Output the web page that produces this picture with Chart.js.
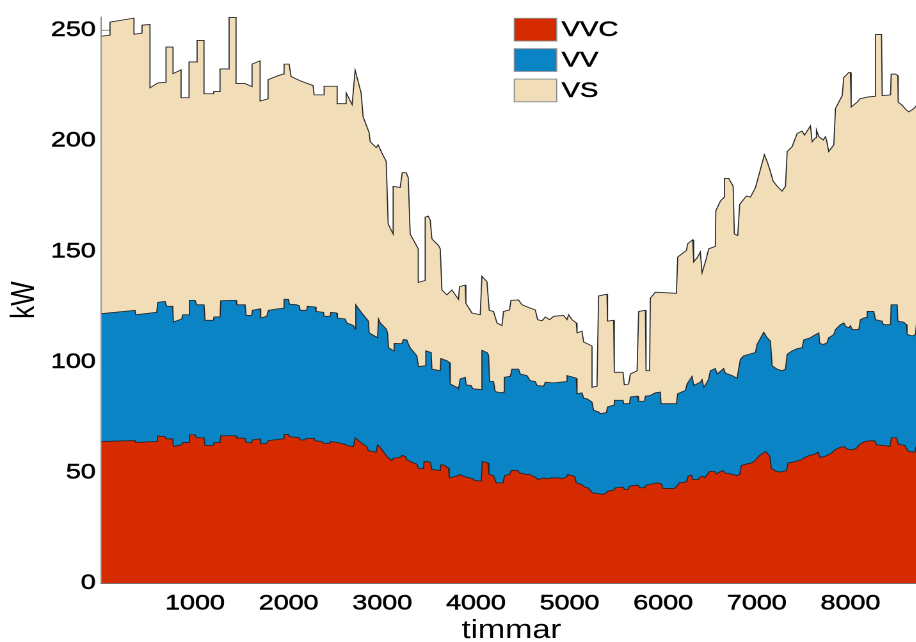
<!DOCTYPE html>
<html>
<head>
<meta charset="utf-8">
<script src="https://cdn.jsdelivr.net/npm/chart.js@4.4.1/dist/chart.umd.min.js"></script>
<style>
  html, body { margin: 0; padding: 0; background: #fff; overflow: hidden; width: 916px; height: 642px; }
  /* the figure is drawn on a narrower canvas and widened horizontally */
  #stage { position: absolute; left: 0; top: 0; width: 720px; height: 642px; transform: scaleX(1.28); transform-origin: 0 0; }
  canvas { display: block; }
</style>
</head>
<body>
<div id="stage"><canvas id="chart" width="720" height="642"></canvas></div>
<script>
// Hourly load over one year, stacked by category. Each list holds the
// upper edge of its band as [hour, kW] pairs.
const SERIES_LABELS = ['VVC', 'VV', 'VS'];
const SERIES_COLORS = ['#d62b00', '#0b84c6', '#f2ddb9'];
const X_TICKS = [1000, 2000, 3000, 4000, 5000, 6000, 7000, 8000];
const Y_TICKS = [0, 50, 100, 150, 200, 250];
const HOURS_IN_YEAR = 8760;
const KW_MAX = 256;

const VVC_TOP = [
  [0,64.1],[360,64.5],[367,63.7],[591,64.1],[598,66.6],[680,66.3],[690,65.3],[762,65.3],[769,61.8],[858,62.6],
  [869,63.6],[929,63.6],[940,67.1],[1000,67.1],[1018,65.8],[1096,65.8],[1107,62.3],[1196,62.3],[1203,63.6],[1267,63.6],
  [1275,66.7],[1438,66.7],[1446,65.8],[1535,65.5],[1545,63.6],[1606,63.6],[1613,64.8],[1695,65.3],[1702,63.0],[1766,63.3],
  [1784,64.5],[1944,65.3],[1951,67.3],[1997,67.3],[2008,66.3],[2115,65.8],[2122,64.8],[2176,64.8],[2186,65.5],[2272,65.5],
  [2283,64.4],[2354,64.1],[2372,63.3],[2436,63.3],[2443,64.1],[2521,63.7],[2543,63.3],[2603,62.9],[2621,62.3],[2692,61.8],
  [2710,65.8],[2781,63.3],[2835,61.8],[2852,59.9],[2935,59.3],[2949,62.6],[2970,61.8],[3031,58.4],[3049,57.4],[3102,55.4],
  [3120,56.6],[3191,56.9],[3209,57.8],[3245,57.4],[3262,55.9],[3334,54.4],[3369,53.9],[3387,51.9],[3440,51.9],[3447,55.1],
  [3512,54.8],[3530,51.4],[3619,51.0],[3626,53.6],[3672,53.3],[3690,52.4],[3708,52.1],[3715,47.7],[3790,48.4],[3825,49.2],
  [3897,48.0],[3961,47.4],[3985,46.5],[4057,46.2],[4068,55.1],[4128,54.4],[4139,49.2],[4188,48.7],[4217,45.4],[4289,45.4],
  [4306,48.7],[4359,49.2],[4377,51.0],[4449,51.0],[4466,49.9],[4538,49.2],[4567,49.4],[4609,48.4],[4637,48.0],[4663,46.9],
  [4698,47.4],[4733,47.7],[4751,47.2],[4805,47.7],[4858,47.7],[4930,47.4],[4965,48.0],[4983,49.2],[5019,48.7],[5054,48.4],
  [5072,45.4],[5126,44.7],[5161,43.5],[5197,43.2],[5243,40.9],[5304,40.5],[5357,40.2],[5393,40.9],[5411,41.7],[5464,42.0],
  [5492,43.2],[5571,43.5],[5588,42.5],[5625,42.5],[5642,43.9],[5732,44.4],[5749,43.2],[5802,43.2],[5820,44.4],[5892,45.0],
  [5927,45.4],[5980,45.0],[5999,42.9],[6123,42.9],[6141,43.9],[6176,45.4],[6248,45.9],[6266,48.4],[6301,48.9],[6319,46.9],
  [6373,46.9],[6390,48.0],[6426,48.4],[6443,47.7],[6497,50.6],[6550,50.6],[6568,49.4],[6604,50.3],[6640,51.0],[6657,49.9],
  [6747,49.2],[6782,48.7],[6817,49.2],[6835,53.3],[6889,53.9],[6942,54.4],[6978,55.4],[7031,57.8],[7095,59.6],[7138,57.4],
  [7156,51.9],[7209,50.6],[7263,50.3],[7316,51.0],[7334,54.4],[7388,54.8],[7441,55.4],[7477,55.9],[7512,56.9],[7565,57.8],
  [7619,58.4],[7655,59.3],[7672,56.9],[7726,57.4],[7762,58.1],[7797,58.8],[7833,60.3],[7886,61.4],[7940,61.8],[7958,60.8],
  [8011,60.3],[8065,61.1],[8100,62.9],[8153,64.1],[8207,64.4],[8260,64.4],[8278,62.6],[8367,62.3],[8420,61.8],[8438,65.8],
  [8492,65.8],[8510,62.9],[8580,62.3],[8617,59.6],[8688,59.3],[8706,62.6],[8760,62.6]
];

const VV_TOP = [
  [0,121.9],[360,123.4],[367,121.4],[591,122.5],[602,127.0],[680,127.4],[698,125.2],[762,125.2],[769,118.1],[858,119.5],
  [869,121.4],[929,121.4],[940,127.9],[1000,127.9],[1018,125.9],[1096,125.9],[1107,118.9],[1196,118.9],[1203,120.4],[1267,120.4],
  [1275,127.7],[1374,127.9],[1438,127.9],[1446,125.9],[1535,125.9],[1545,121.1],[1606,121.1],[1613,123.4],[1695,124.1],[1702,119.9],
  [1766,120.7],[1784,123.4],[1873,124.0],[1944,124.4],[1951,128.4],[1997,128.4],[2008,126.2],[2087,125.9],[2115,125.4],[2122,123.4],
  [2193,123.4],[2200,125.2],[2283,124.9],[2293,122.9],[2372,122.5],[2379,120.7],[2443,120.7],[2450,122.5],[2514,122.2],[2521,119.9],
  [2603,119.5],[2621,117.7],[2692,116.5],[2710,115.0],[2717,125.9],[2781,122.2],[2852,118.5],[2860,113.2],[2949,111.0],[2960,119.5],
  [2978,117.7],[3042,115.0],[3056,113.2],[3067,106.5],[3120,105.1],[3127,108.4],[3191,108.3],[3209,108.4],[3227,110.2],[3262,110.0],
  [3280,108.0],[3298,106.5],[3369,102.8],[3387,98.0],[3458,98.3],[3465,105.1],[3522,104.3],[3530,96.8],[3619,96.1],[3626,101.6],
  [3690,100.6],[3718,99.8],[3726,90.1],[3797,88.6],[3814,87.9],[3832,92.4],[3886,93.1],[3896,89.7],[3947,89.4],[3968,87.9],
  [4064,87.6],[4064,105.3],[4118,104.3],[4135,103.1],[4146,91.2],[4188,91.2],[4206,86.7],[4260,86.1],[4295,86.4],[4303,93.1],
  [4367,93.6],[4385,96.8],[4455,96.8],[4474,94.6],[4545,93.9],[4580,91.6],[4634,91.2],[4652,89.4],[4723,89.1],[4741,90.9],
  [4830,90.6],[4901,90.9],[4973,91.2],[4973,93.9],[5043,93.1],[5072,92.7],[5080,85.7],[5133,86.1],[5150,83.7],[5187,83.4],
  [5240,81.9],[5257,78.2],[5310,77.5],[5329,76.7],[5393,77.2],[5406,79.7],[5471,80.5],[5478,82.7],[5571,82.7],[5578,81.2],
  [5642,81.2],[5649,84.2],[5727,84.6],[5738,82.3],[5799,82.3],[5810,84.6],[5863,84.9],[5916,86.1],[5970,86.4],[5977,81.2],
  [6141,81.2],[6155,85.7],[6237,87.2],[6255,90.1],[6309,93.6],[6326,89.4],[6397,90.9],[6415,92.1],[6433,88.6],[6469,90.9],
  [6486,92.4],[6504,96.1],[6557,97.1],[6576,94.6],[6646,97.1],[6664,95.0],[6736,93.9],[6789,92.7],[6825,101.3],[6860,102.8],
  [6913,103.5],[6985,104.3],[7003,108.0],[7074,113.5],[7110,111.0],[7145,109.5],[7164,98.3],[7217,96.8],[7270,96.1],[7306,96.8],
  [7324,103.5],[7377,105.1],[7431,106.1],[7484,106.5],[7501,110.0],[7573,111.0],[7608,112.0],[7662,113.2],[7672,108.4],[7715,108.0],
  [7751,108.8],[7768,111.0],[7805,112.0],[7822,112.5],[7840,114.7],[7893,116.9],[7929,117.7],[7947,116.2],[7982,115.5],[8000,116.5],
  [8018,114.7],[8089,114.7],[8107,119.2],[8142,119.9],[8179,120.3],[8179,122.9],[8249,122.9],[8268,119.2],[8339,118.5],[8350,116.9],
  [8428,116.9],[8435,125.9],[8499,125.9],[8506,118.5],[8570,118.0],[8599,116.9],[8606,112.5],[8660,111.8],[8695,112.5],[8706,118.5],
  [8760,118.5]
];

const VS_TOP = [
  [0,247.3],[92,247.8],[92,253.7],[348,255.5],[348,248.2],[434,248.7],[434,252.3],[519,252.6],[519,224.0],[605,226.2],
  [690,226.5],[690,242.4],[765,242.4],[765,230.4],[851,232.1],[851,219.5],[936,219.5],[936,235.7],[1022,235.7],[1022,245.4],
  [1096,245.4],[1096,221.3],[1193,221.3],[1200,222.3],[1267,222.3],[1267,232.5],[1364,232.5],[1364,255.8],[1438,255.8],[1438,225.9],
  [1535,225.9],[1609,224.5],[1609,234.7],[1695,236.2],[1695,218.0],[1780,219.0],[1780,227.7],[1877,229.3],[1941,230.2],[1951,234.7],
  [2005,234.7],[2026,229.1],[2122,227.2],[2261,225.0],[2272,220.8],[2379,220.8],[2379,224.7],[2518,224.7],[2518,216.8],[2614,216.8],
  [2614,221.7],[2678,216.4],[2710,232.0],[2774,221.7],[2796,210.8],[2860,203.7],[2871,199.6],[2935,197.0],[2956,198.2],[2988,195.2],
  [3042,190.7],[3063,162.4],[3116,157.9],[3116,179.4],[3191,178.9],[3213,185.6],[3255,185.6],[3277,183.4],[3298,157.9],[3384,151.2],
  [3384,136.0],[3458,136.9],[3458,165.5],[3490,166.0],[3512,164.2],[3530,155.7],[3600,152.7],[3619,151.2],[3637,132.6],[3690,130.4],
  [3744,132.6],[3779,130.4],[3814,128.4],[3825,134.1],[3886,134.8],[3893,126.6],[3957,122.2],[4046,121.4],[4064,138.8],[4118,136.3],
  [4142,123.4],[4188,122.9],[4225,117.7],[4278,116.5],[4295,122.9],[4359,123.6],[4374,127.9],[4455,128.1],[4492,125.9],[4580,124.4],
  [4634,123.6],[4659,119.2],[4706,118.7],[4741,120.4],[4787,119.2],[4830,120.7],[4936,121.1],[4973,119.2],[4990,121.4],[5026,119.2],
  [5072,117.7],[5080,113.2],[5133,114.0],[5150,109.1],[5240,107.3],[5240,88.6],[5293,89.1],[5310,129.9],[5400,130.7],[5406,118.5],
  [5471,118.9],[5478,95.4],[5571,95.4],[5585,89.7],[5631,90.1],[5649,94.6],[5721,96.1],[5738,122.9],[5810,123.4],[5817,96.1],
  [5855,96.1],[5863,128.9],[5916,131.6],[6141,131.1],[6155,147.5],[6248,150.5],[6262,153.5],[6315,155.3],[6326,145.3],[6368,147.5],
  [6397,149.8],[6415,140.4],[6461,146.8],[6486,151.2],[6557,152.3],[6562,168.4],[6611,172.8],[6654,174.6],[6654,183.0],[6700,183.0],
  [6747,179.5],[6760,157.9],[6796,157.2],[6817,171.3],[6889,175.1],[6932,174.6],[6985,178.8],[7081,193.7],[7110,190.7],[7145,186.2],
  [7174,181.8],[7217,179.5],[7270,177.3],[7306,179.5],[7324,195.2],[7377,197.4],[7431,203.4],[7484,204.4],[7509,202.6],[7544,204.9],
  [7573,206.8],[7591,199.6],[7626,201.4],[7637,204.9],[7662,201.9],[7709,200.4],[7733,201.9],[7744,200.4],[7768,195.2],[7822,198.2],
  [7840,214.6],[7912,220.5],[7929,228.7],[7982,230.9],[8000,230.9],[8008,215.3],[8072,217.5],[8100,219.0],[8179,219.8],[8268,220.2],
  [8268,248.1],[8332,248.1],[8339,220.5],[8428,220.8],[8435,230.2],[8481,230.2],[8506,229.5],[8510,217.5],[8553,216.1],[8588,214.3],
  [8624,213.1],[8677,214.6],[8706,216.1],[8760,216.1]
];

const SERIES_EDGES = [VVC_TOP, VV_TOP, VS_TOP];
const FONT_FAMILY = "'Liberation Sans', Arial, Helvetica, sans-serif";

// Short tick marks pointing into the plot; the filled bands cover most of them.
const innerTicks = {
  id: 'innerTicks',
  beforeDatasetsDraw(chart) {
    const { ctx, chartArea: a, scales: { x, y } } = chart;
    ctx.save();
    ctx.strokeStyle = '#6f6f6f';
    ctx.lineWidth = 0.8;
    ctx.beginPath();
    y.ticks.forEach(t => {
      const py = y.getPixelForValue(t.value);
      ctx.moveTo(a.left, py); ctx.lineTo(a.left + 7, py);
    });
    x.ticks.forEach(t => {
      const px = x.getPixelForValue(t.value);
      ctx.moveTo(px, a.bottom); ctx.lineTo(px, a.bottom - 9);
    });
    ctx.stroke();
    ctx.restore();
  }
};

// Legend with filled swatches, placed inside the plot near the top.
const swatchLegend = {
  id: 'swatchLegend',
  afterDraw(chart) {
    const { ctx } = chart;
    const left = 401.8, top = 18.3, boxW = 33.1, boxH = 22.7, pitch = 30.4, gap = 3.9;
    ctx.save();
    ctx.font = "21.5px " + FONT_FAMILY;
    ctx.textBaseline = 'middle';
    ctx.textAlign = 'left';
    chart.data.datasets.forEach((ds, i) => {
      const y0 = top + i * pitch;
      ctx.fillStyle = ds.backgroundColor;
      ctx.fillRect(left, y0, boxW, boxH);
      ctx.strokeStyle = '#8c8c8c';
      ctx.lineWidth = 0.9;
      ctx.strokeRect(left, y0, boxW, boxH);
      ctx.fillStyle = '#000';
      ctx.strokeStyle = '#000';
      ctx.lineWidth = 0.5;
      ctx.fillText(ds.label, left + boxW + gap, y0 + boxH / 2 + 0.5);
      ctx.strokeText(ds.label, left + boxW + gap, y0 + boxH / 2 + 0.5);
    });
    ctx.restore();
  }
};

const datasets = SERIES_LABELS.map((label, i) => ({
  label,
  data: SERIES_EDGES[i].map(([h, kw]) => ({ x: h, y: kw })),
  backgroundColor: SERIES_COLORS[i],
  borderColor: '#262626',
  borderWidth: 0.85,
  fill: 'origin',
  pointRadius: 0,
  tension: 0
}));

new Chart(document.getElementById('chart'), {
  type: 'line',
  data: { datasets },
  options: {
    responsive: false,
    animation: false,
    devicePixelRatio: 2,
    layout: { padding: { top: 11, right: 0, left: 0, bottom: 0 } },
    plugins: { legend: { display: false }, tooltip: { enabled: false } },
    scales: {
      x: {
        type: 'linear',
        min: 0,
        max: HOURS_IN_YEAR,
        z: 1,
        afterBuildTicks(scale) { scale.ticks = X_TICKS.map(v => ({ value: v })); },
        afterFit(scale) { scale.height = 58.7; },
        grid: { display: false, drawTicks: false },
        border: { display: true, color: '#707070', width: 1 },
        ticks: {
          color: '#000', padding: 8, maxRotation: 0,
          textStrokeColor: '#000', textStrokeWidth: 0.5,
          font: { family: FONT_FAMILY, size: 21 },
          callback: v => String(v)
        },
        title: {
          display: true,
          text: 'timmar',
          color: '#000',
          padding: { top: 0, bottom: 0 },
          font: { family: FONT_FAMILY, size: 25.5, lineHeight: 0.85 }
        }
      },
      y: {
        type: 'linear',
        min: 0,
        max: KW_MAX,
        z: 1,
        afterBuildTicks(scale) { scale.ticks = Y_TICKS.map(v => ({ value: v })); },
        afterFit(scale) { scale.width = 79.2; },
        grid: { display: false, drawTicks: false },
        border: { display: true, color: '#707070', width: 0.8 },
        ticks: {
          color: '#000', padding: 4.4,
          textStrokeColor: '#000', textStrokeWidth: 0.5,
          font: { family: FONT_FAMILY, size: 21 },
          callback: v => String(v)
        },
        title: {
          display: true,
          text: 'kW',
          color: '#000',
          padding: { top: 3.5, bottom: 0 },
          font: { family: FONT_FAMILY, size: 26 }
        }
      }
    }
  },
  plugins: [innerTicks, swatchLegend]
});
</script>
</body>
</html>
